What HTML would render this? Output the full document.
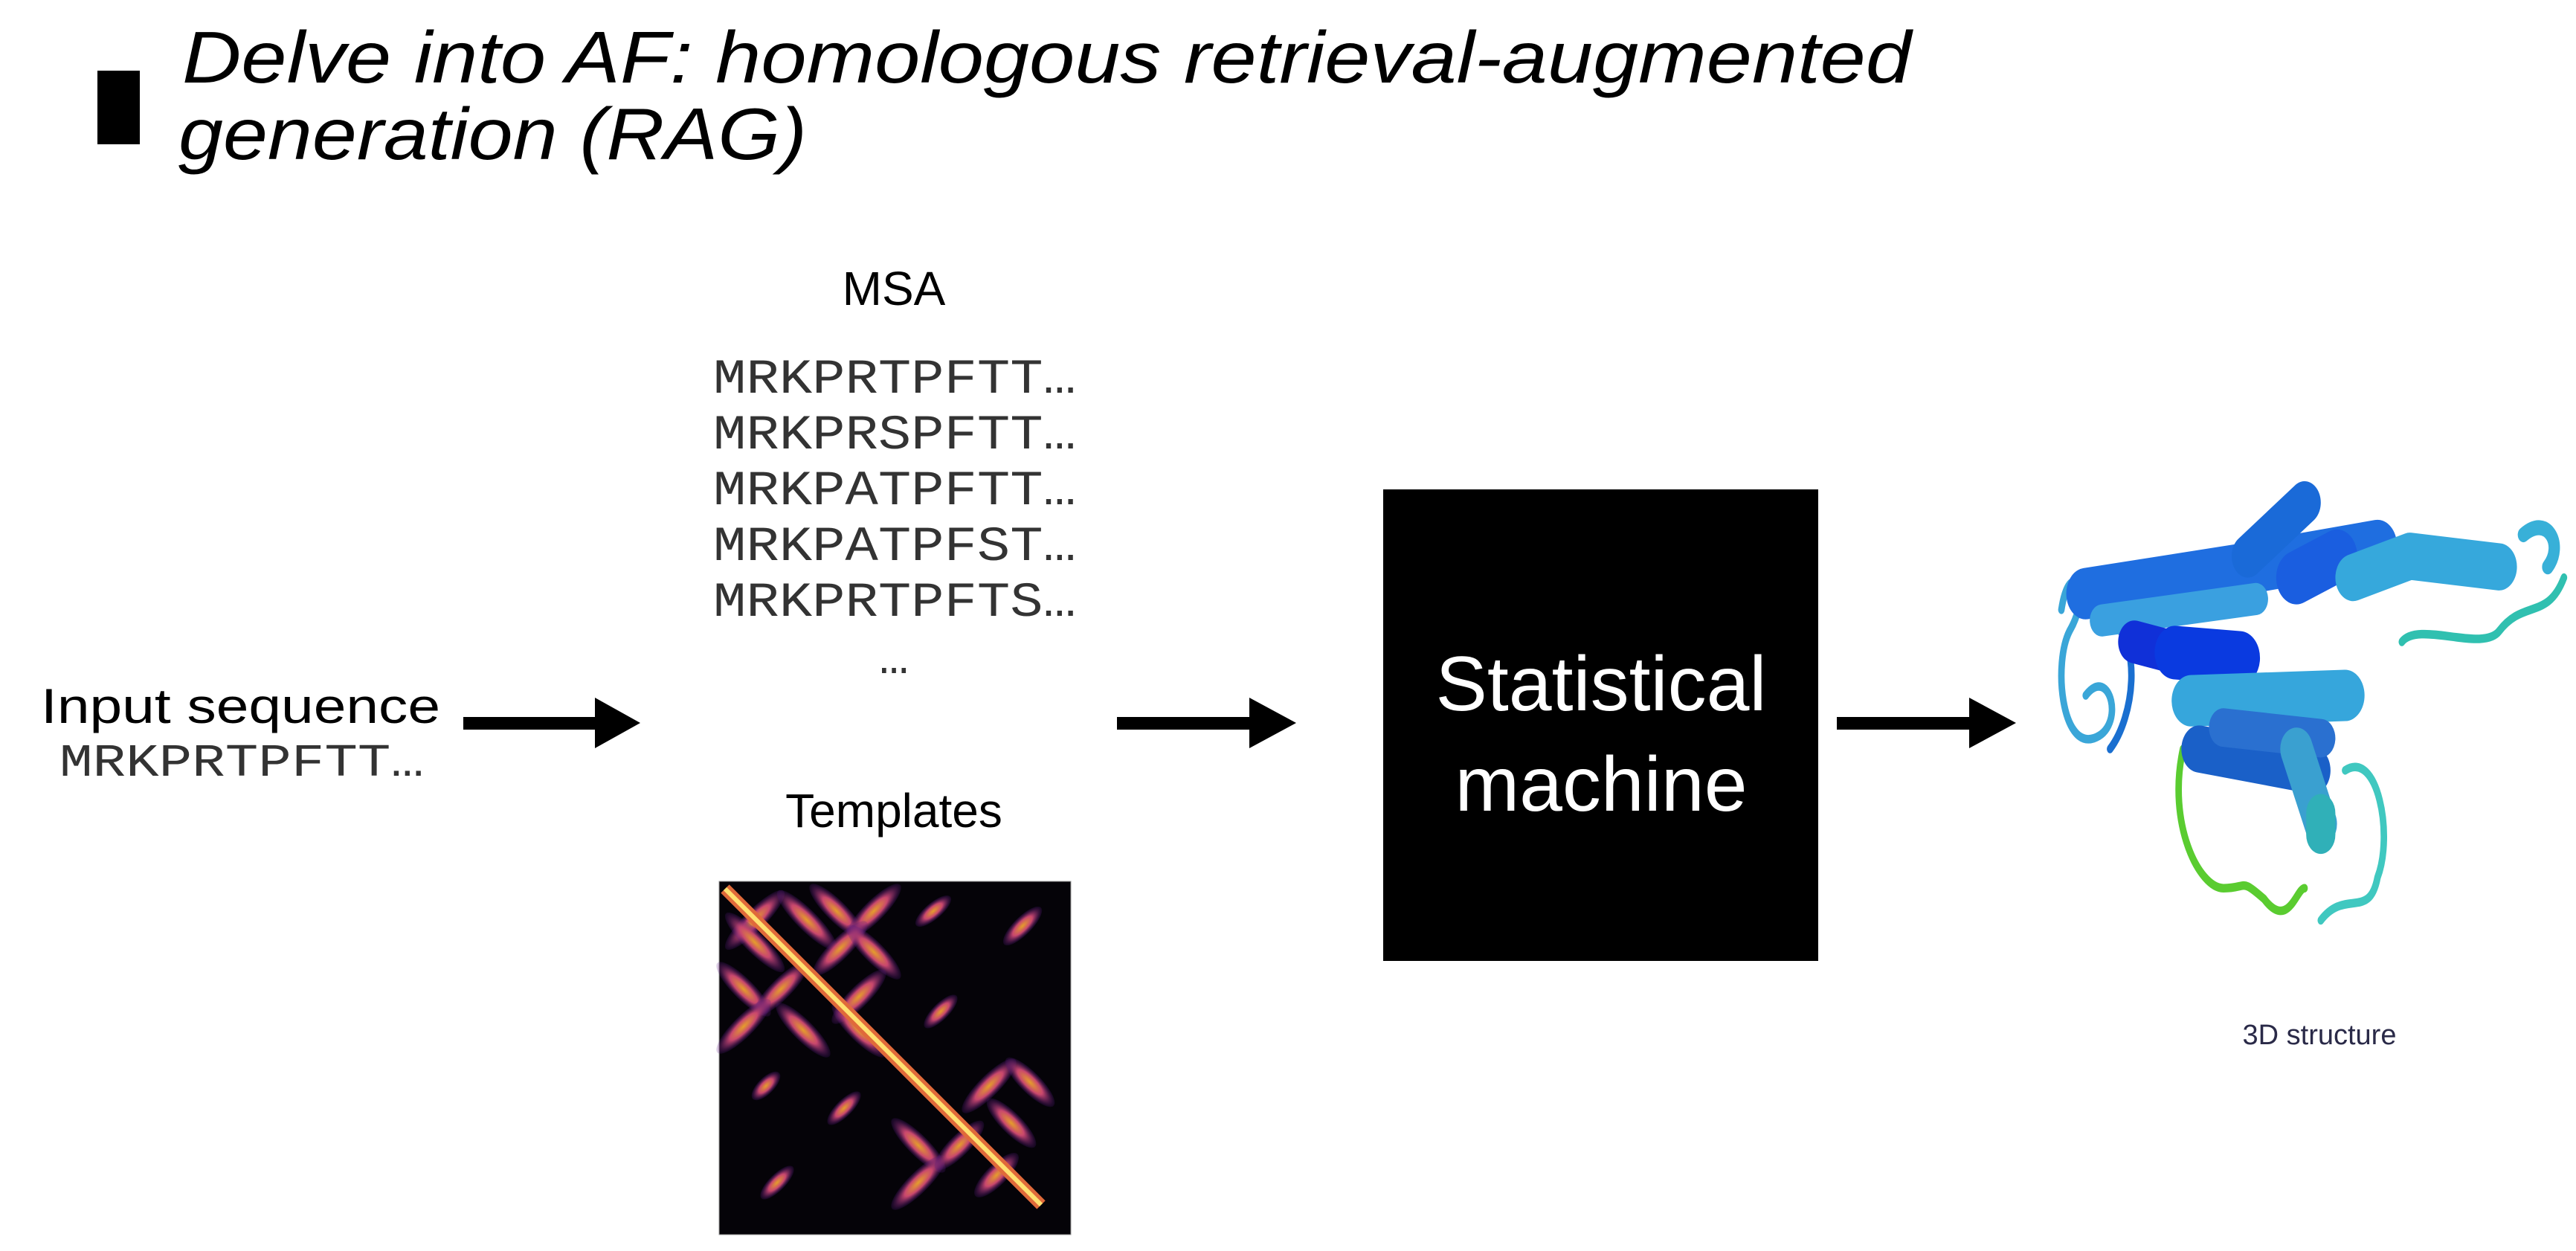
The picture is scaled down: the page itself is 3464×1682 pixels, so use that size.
<!DOCTYPE html>
<html><head><meta charset="utf-8"><style>
html,body{margin:0;padding:0;background:#fff;}
svg{display:block;}
</style></head><body>
<svg width="3464" height="1682" viewBox="0 0 3464 1682" xmlns="http://www.w3.org/2000/svg">
<defs>
<radialGradient id="pet" cx="50%" cy="50%" r="50%">
<stop offset="0" stop-color="#ffb030"/><stop offset="0.5" stop-color="#e0507a"/><stop offset="1" stop-color="#5a1a8a" stop-opacity="0.2"/>
</radialGradient>
</defs>
<rect width="3464" height="1682" fill="#fff"/>
<!-- title -->
<rect x="131" y="95" width="57" height="99" fill="#000"/>
<text x="245" y="111" font-family="Liberation Sans, sans-serif" font-style="italic" font-size="98" textLength="2325" lengthAdjust="spacingAndGlyphs">Delve into AF: homologous retrieval-augmented</text>
<text x="240" y="214" font-family="Liberation Sans, sans-serif" font-style="italic" font-size="98" textLength="845" lengthAdjust="spacingAndGlyphs">generation (RAG)</text>
<!-- MSA -->
<text x="1202" y="410" text-anchor="middle" font-family="Liberation Sans, sans-serif" font-size="64">MSA</text>
<g font-family="Liberation Mono, monospace" font-size="66" fill="#333">
<text x="959" y="528" textLength="488" lengthAdjust="spacingAndGlyphs">MRKPRTPFTT…</text>
<text x="959" y="603" textLength="488" lengthAdjust="spacingAndGlyphs">MRKPRSPFTT…</text>
<text x="959" y="678" textLength="488" lengthAdjust="spacingAndGlyphs">MRKPATPFTT…</text>
<text x="959" y="753" textLength="488" lengthAdjust="spacingAndGlyphs">MRKPATPFST…</text>
<text x="959" y="828" textLength="488" lengthAdjust="spacingAndGlyphs">MRKPRTPFTS…</text>
<text x="1202" y="905" text-anchor="middle">…</text>
</g>
<!-- input -->
<text x="55" y="972" font-family="Liberation Sans, sans-serif" font-size="66" textLength="537" lengthAdjust="spacingAndGlyphs">Input sequence</text>
<text x="80" y="1043" font-family="Liberation Mono, monospace" font-size="62" fill="#333" textLength="490" lengthAdjust="spacingAndGlyphs">MRKPRTPFTT…</text>
<!-- arrows -->
<g fill="#000">
<rect x="623" y="964" width="190" height="17"/><polygon points="800,938 861,972 800,1006"/>
<rect x="1502" y="964" width="192" height="17"/><polygon points="1680,938 1743,972 1680,1006"/>
<rect x="2470" y="964" width="190" height="17"/><polygon points="2648,938 2711,972 2648,1006"/>
</g>
<!-- Templates -->
<text x="1202" y="1112" text-anchor="middle" font-family="Liberation Sans, sans-serif" font-size="64">Templates</text>
<rect x="967" y="1185" width="473" height="475" fill="#050308" stroke="#999" stroke-width="1"/>
<g opacity="0.9">
<g transform="translate(1015,1237)"><ellipse rx="55" ry="14" fill="url(#pet)" transform="rotate(-45)"/></g>
<g transform="translate(1085,1237)"><ellipse rx="55" ry="14" fill="url(#pet)" transform="rotate(45)"/></g>
<g transform="translate(1015,1267)"><ellipse rx="55" ry="14" fill="url(#pet)" transform="rotate(45)"/></g>
<g transform="translate(1125,1225)"><ellipse rx="50" ry="14" fill="url(#pet)" transform="rotate(45)"/></g>
<g transform="translate(1175,1225)"><ellipse rx="50" ry="14" fill="url(#pet)" transform="rotate(-45)"/></g>
<g transform="translate(1130,1275)"><ellipse rx="50" ry="14" fill="url(#pet)" transform="rotate(-45)"/></g>
<g transform="translate(1175,1280)"><ellipse rx="50" ry="14" fill="url(#pet)" transform="rotate(45)"/></g>
<g transform="translate(1000,1330)"><ellipse rx="50" ry="14" fill="url(#pet)" transform="rotate(45)"/></g>
<g transform="translate(1050,1330)"><ellipse rx="50" ry="14" fill="url(#pet)" transform="rotate(-45)"/></g>
<g transform="translate(1000,1380)"><ellipse rx="50" ry="14" fill="url(#pet)" transform="rotate(-45)"/></g>
<g transform="translate(1080,1385)"><ellipse rx="50" ry="14" fill="url(#pet)" transform="rotate(45)"/></g>
<g transform="translate(1155,1340)"><ellipse rx="50" ry="14" fill="url(#pet)" transform="rotate(-45)"/></g>
<g transform="translate(1155,1385)"><ellipse rx="50" ry="14" fill="url(#pet)" transform="rotate(45)"/></g>
<g transform="translate(1255,1225)"><ellipse rx="30" ry="11" fill="url(#pet)" transform="rotate(-40)"/></g>
<g transform="translate(1375,1245)"><ellipse rx="35" ry="12" fill="url(#pet)" transform="rotate(-45)"/></g>
<g transform="translate(1265,1360)"><ellipse rx="30" ry="11" fill="url(#pet)" transform="rotate(-45)"/></g>
<g transform="translate(1360,1510)"><ellipse rx="45" ry="14" fill="url(#pet)" transform="rotate(45)"/></g>
<g transform="translate(1330,1460)"><ellipse rx="50" ry="14" fill="url(#pet)" transform="rotate(-45)"/></g>
<g transform="translate(1385,1455)"><ellipse rx="45" ry="14" fill="url(#pet)" transform="rotate(45)"/></g>
<g transform="translate(1235,1540)"><ellipse rx="50" ry="14" fill="url(#pet)" transform="rotate(45)"/></g>
<g transform="translate(1235,1590)"><ellipse rx="50" ry="14" fill="url(#pet)" transform="rotate(-45)"/></g>
<g transform="translate(1290,1540)"><ellipse rx="45" ry="14" fill="url(#pet)" transform="rotate(-45)"/></g>
<g transform="translate(1340,1580)"><ellipse rx="40" ry="14" fill="url(#pet)" transform="rotate(-45)"/></g>
<g transform="translate(1030,1460)"><ellipse rx="25" ry="11" fill="url(#pet)" transform="rotate(-45)"/></g>
<g transform="translate(1045,1590)"><ellipse rx="30" ry="11" fill="url(#pet)" transform="rotate(-45)"/></g>
<g transform="translate(1135,1490)"><ellipse rx="30" ry="11" fill="url(#pet)" transform="rotate(-45)"/></g>
</g>
<line x1="975" y1="1195" x2="1400" y2="1620" stroke="#e06a3a" stroke-width="16"/>
<line x1="975" y1="1195" x2="1400" y2="1620" stroke="#ffe070" stroke-width="6"/>
<!-- Statistical machine -->
<rect x="1860" y="658" width="585" height="634" fill="#000"/>
<text x="2153" y="955" text-anchor="middle" fill="#fff" font-family="Liberation Sans, sans-serif" font-size="104">Statistical</text>
<text x="2153" y="1090" text-anchor="middle" fill="#fff" font-family="Liberation Sans, sans-serif" font-size="104">machine</text>
<!-- protein -->
<g fill="none" stroke-linecap="round" stroke-linejoin="round" transform="translate(2772,647) scale(1.09,1.44) translate(-2760,-630)">
<path d="M2760,750 C2770,700 2800,730 2770,770 C2750,800 2760,880 2800,870 C2840,860 2820,800 2790,830" stroke="#3aa6d8" stroke-width="8"/>
<path d="M2820,760 C2860,780 2850,850 2820,880" stroke="#1a6fd0" stroke-width="8"/>
<path d="M3180,780 C3200,760 3280,790 3300,770 C3330,740 3360,760 3380,720" stroke="#30c0b0" stroke-width="8"/>
<path d="M3110,900 C3150,880 3170,960 3150,1000 C3140,1040 3110,1010 3080,1040" stroke="#40c8c0" stroke-width="8"/>
<path d="M2910,880 C2890,950 2930,1010 2960,1010 C2990,1010 2980,1000 3010,1020 C3040,1050 3050,1010 3060,1010" stroke="#5acc30" stroke-width="8"/>
<path d="M2790,735 L3000,710 L3150,690" stroke="#1f6ee0" stroke-width="48"/>
<path d="M2810,760 L3000,740" stroke="#3aa0e0" stroke-width="30"/>
<path d="M2990,700 L3060,650" stroke="#1a6ad8" stroke-width="40"/>
<path d="M3050,720 L3100,700" stroke="#1a5ee0" stroke-width="50"/>
<path d="M3120,720 L3190,700 L3300,710" stroke="#36a8dc" stroke-width="44"/>
<path d="M3330,680 C3360,660 3380,690 3360,710" stroke="#38b0d8" stroke-width="14"/>
<path d="M2850,780 L2900,790" stroke="#1030d8" stroke-width="40"/>
<path d="M2900,790 L2980,795" stroke="#0a3ae0" stroke-width="50"/>
<path d="M2920,835 L3110,830" stroke="#36a6dc" stroke-width="48"/>
<path d="M2930,880 L3070,900" stroke="#1a60c8" stroke-width="44"/>
<path d="M2960,860 L3080,870" stroke="#2a70d0" stroke-width="36"/>
<path d="M3050,880 L3080,950" stroke="#3aa0d0" stroke-width="40"/>
<path d="M3080,940 L3080,960" stroke="#30b0b8" stroke-width="36"/>
</g>
<text x="3119" y="1404" text-anchor="middle" fill="#2a2a48" font-family="Liberation Sans, sans-serif" font-size="38">3D structure</text>
</svg>
</body></html>
